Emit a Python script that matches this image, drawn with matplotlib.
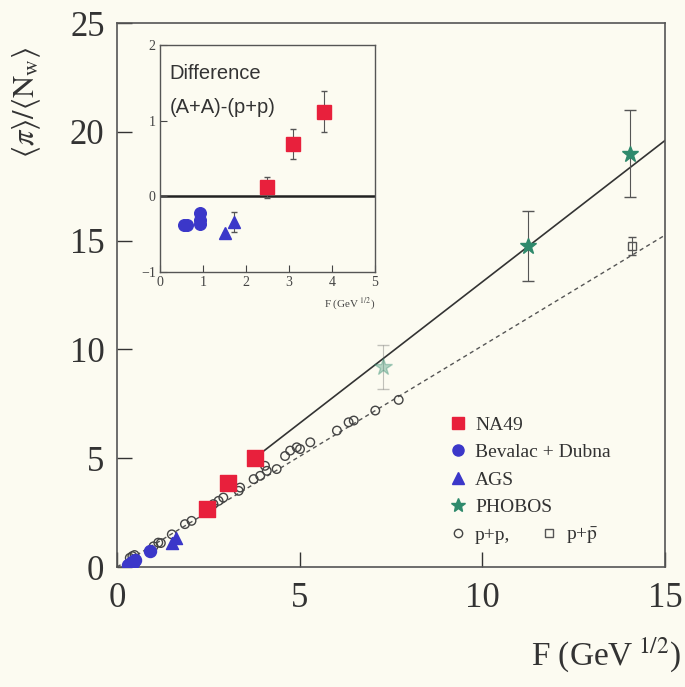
import matplotlib
matplotlib.use("Agg")
import matplotlib.pyplot as plt
from matplotlib.lines import Line2D

plt.rcParams['font.family'] = ['Liberation Serif', 'DejaVu Serif']
plt.rcParams['mathtext.fontset'] = 'stix'

BG = '#fcfbf1'
RED = '#e8203c'
BLUE = '#3b37c9'
GREEN = '#2f8a6c'

# main panel data
na49_x = [2.47, 3.04, 3.78]
na49_y = [2.67, 3.87, 5.02]

bd_x = [0.30, 0.35, 0.40, 0.45, 0.50, 0.90]
bd_y = [0.08, 0.15, 0.25, 0.20, 0.32, 0.74]

ags_x = [1.50, 1.62]
ags_y = [1.10, 1.32]

phobos_x = [7.29, 11.26, 14.05]
phobos_y = [9.2, 14.75, 19.0]
phobos_err = [1.0, 1.6, 2.0]

pp_x = [0.35, 0.42, 0.48, 1.00, 1.13, 1.20, 1.50, 1.86, 2.04, 2.64, 2.78, 2.91,
        3.33, 3.37, 3.74, 3.92, 4.05, 4.10, 4.37, 4.60, 4.74, 4.92, 5.01, 5.29,
        6.02, 6.34, 6.48, 7.07, 7.71]
pp_y = [0.42, 0.50, 0.55, 0.95, 1.12, 1.10, 1.50, 1.97, 2.12, 2.89, 3.04, 3.19,
        3.50, 3.65, 4.04, 4.19, 4.65, 4.42, 4.50, 5.10, 5.35, 5.50, 5.42, 5.73,
        6.27, 6.65, 6.73, 7.19, 7.68]

ppbar_x = [14.1]
ppbar_y = [14.75]
ppbar_err = [0.4]

# fit lines (end points)
aa_fit_x = [3.6, 15.0]
aa_fit_y = [4.79, 19.6]
pp_fit_x = [0.0, 15.0]
pp_fit_y = [0.0, 15.25]

# inset: difference (A+A)-(p+p)
d_na49_x = [2.48, 3.10, 3.82]
d_na49_y = [0.12, 0.69, 1.12]
d_na49_err = [0.14, 0.20, 0.27]
d_bd_x = [0.55, 0.62, 0.93, 0.93, 0.93]
d_bd_y = [-0.38, -0.38, -0.22, -0.31, -0.36]
d_ags_x = [1.51, 1.71]
d_ags_y = [-0.48, -0.34]
d_ags_err = [0.0, 0.13]

fig = plt.figure(figsize=(6.85, 6.87), dpi=100)
fig.patch.set_facecolor(BG)
ax = fig.add_axes([117 / 685, 1 - 567 / 687, 548 / 685, 544 / 687])
ax.set_facecolor(BG)

ax.plot(pp_fit_x, pp_fit_y, color='#555555', lw=1.0, ls=(0, (3, 2.5)), zorder=1)
ax.plot(aa_fit_x, aa_fit_y, color='#333333', lw=1.2, zorder=1)

ax.scatter(pp_x, pp_y, s=38, facecolors='none', edgecolors='#444444', linewidths=1.0, zorder=2)
ax.errorbar(ppbar_x, ppbar_y, yerr=ppbar_err, fmt='s', ms=6, mfc='none', mec='#555555',
            ecolor='#555555', elinewidth=0.8, capsize=3, zorder=2)
ax.scatter(bd_x, bd_y, s=75, color=BLUE, zorder=3)
ax.scatter(ags_x, ags_y, s=75, marker='^', color=BLUE, zorder=3)
ax.scatter(na49_x, na49_y, s=125, marker='s', color=RED, zorder=4)
ax.errorbar(phobos_x[:1], phobos_y[:1], yerr=phobos_err[:1], fmt='*', ms=13, color=GREEN,
            alpha=0.35, ecolor='#555555', elinewidth=0.8, capsize=4, zorder=4)
ax.errorbar(phobos_x[1:], phobos_y[1:], yerr=phobos_err[1:], fmt='*', ms=12, color=GREEN,
            ecolor='#555555', elinewidth=0.8, capsize=4, zorder=4)

ax.set_xlim(0, 15)
ax.set_ylim(0, 25)
ax.set_xticks([0, 5, 10, 15])
ax.set_yticks([0, 5, 10, 15, 20, 25])
ax.tick_params(direction='in', length=11, width=1.0, labelsize=25, colors='#333333',
               labelcolor='#333333')
ax.tick_params(axis='x', pad=11)
ax.tick_params(axis='y', pad=9)
for s in ax.spines.values():
    s.set_linewidth(1.2)
    s.set_color('#555555')

ax.set_ylabel(r'$\langle\pi\rangle/\langle \mathrm{N}_{\rm w}\rangle$', fontsize=22,
              color='#333333', va='center')
ax.yaxis.set_label_coords(-0.165, 0.855)
ax.set_xlabel(r'F (GeV$^{\ 1/2}$)', fontsize=24, color='#333333', ha='right')
ax.xaxis.set_label_coords(1.03, -0.125)

# legend
h1 = [Line2D([], [], ls='none', marker='s', ms=8, color=RED),
      Line2D([], [], ls='none', marker='o', ms=8, color=BLUE),
      Line2D([], [], ls='none', marker='^', ms=8, color=BLUE),
      Line2D([], [], ls='none', marker='*', ms=10, color=GREEN)]
leg = ax.legend(h1, ['NA49', 'Bevalac + Dubna', 'AGS', 'PHOBOS'], loc='upper left',
                bbox_to_anchor=(0.591, 0.295), frameon=False, fontsize=14, handlelength=0.8,
                handletextpad=0.45, labelspacing=0.5, borderpad=0)
for t in leg.get_texts():
    t.set_color('#333333')
ax.add_artist(leg)
h2 = [Line2D([], [], ls='none', marker='o', ms=6, mfc='none', mec='#444444'),
      Line2D([], [], ls='none', marker='s', ms=6, mfc='none', mec='#555555')]
leg2 = ax.legend(h2, ['p+p,', r'p+$\bar{\rm p}$'], loc='upper left', ncol=2,
                 bbox_to_anchor=(0.591, 0.095), frameon=False, fontsize=14, handlelength=0.8,
                 handletextpad=0.45, columnspacing=1.6, borderpad=0)
for t in leg2.get_texts():
    t.set_color('#333333')

# inset
ins = fig.add_axes([160 / 685, 1 - 272 / 687, 215 / 685, 227 / 687])
ins.set_facecolor(BG)
ins.axhline(0, color='#222222', lw=1.8, zorder=1)
ins.errorbar(d_na49_x, d_na49_y, yerr=d_na49_err, fmt='s', ms=10, color=RED,
             ecolor='#555555', elinewidth=0.8, capsize=2.5, zorder=3)
ins.scatter(d_bd_x, d_bd_y, s=70, color=BLUE, zorder=3)
ins.errorbar(d_ags_x, d_ags_y, yerr=d_ags_err, fmt='^', ms=8, color=BLUE,
             ecolor='#555555', elinewidth=0.8, capsize=2, zorder=3)
ins.set_xlim(0, 5)
ins.set_ylim(-1, 2)
ins.set_xticks([0, 1, 2, 3, 4, 5])
ins.set_yticks([-1, 0, 1, 2])
ins.tick_params(direction='in', length=5, width=0.8, labelsize=10, colors='#444444',
                labelcolor='#444444', pad=3)
for s in ins.spines.values():
    s.set_linewidth(1.0)
    s.set_color('#555555')
ins.text(0.045, 0.875, 'Difference', transform=ins.transAxes, fontsize=14.5,
         family=['Liberation Sans', 'DejaVu Sans'], color='#333333', va='center')
ins.text(0.045, 0.725, '(A+A)-(p+p)', transform=ins.transAxes, fontsize=14.5,
         family=['Liberation Sans', 'DejaVu Sans'], color='#333333', va='center')
ins.set_xlabel(r'F (GeV$^{\ 1/2}$)', fontsize=8, color='#444444', ha='right', labelpad=1)
ins.xaxis.set_label_coords(1.0, -0.1)

fig.savefig('out.png', dpi=100, facecolor=BG)
